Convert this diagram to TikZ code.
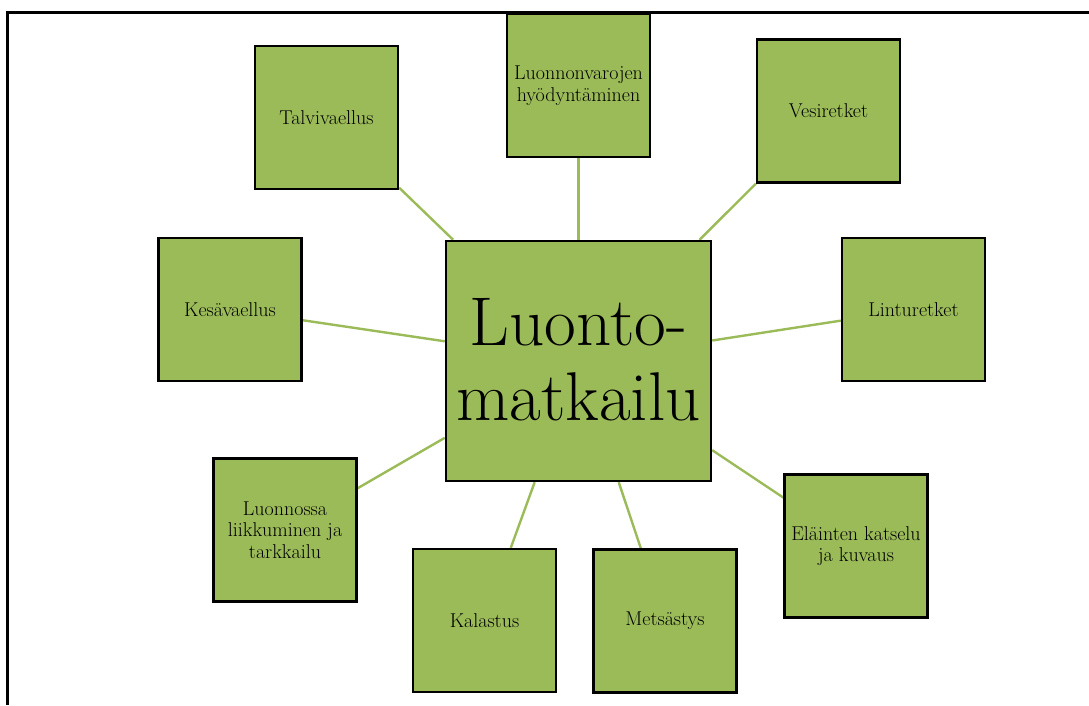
\documentclass[tikz,border=0pt]{standalone}
\usetikzlibrary{backgrounds}
\definecolor{boxgreen}{HTML}{9BBB59}
\begin{document}
\begin{tikzpicture}[x=1pt,y=-1pt,
  box/.style={draw=black,line width=2.4pt,fill=boxgreen,inner sep=0pt,align=center,
    minimum width=143pt,minimum height=143pt,font=\fontsize{20}{21.5}\selectfont},
  link/.style={draw=boxgreen,line width=2.4pt}]
\useasboundingbox (0,0) rectangle (1089,705);
\node[box] (luonnonv) at (578.5,85.5) {Luonnonvarojen\\hyödyntäminen};
\draw[line width=2.2pt] (1089,12.5) -- (7.5,12.5) -- (7.5,705);
\node[box] (talvi) at (326.5,117.5) {Talvivaellus};
\node[box] (vesi) at (828.5,111) {Vesiretket};
\node[box] (kesa) at (230,309.5) {Kesävaellus};
\node[box] (lintu) at (913.5,309.5) {Linturetket};
\node[box] (liikk) at (285,530) {Luonnossa\\liikkuminen ja\\tarkkailu};
\node[box] (kala) at (484.5,620.5) {Kalastus};
\node[box] (metsa) at (665,621) {Metsästys};
\node[box] (elain) at (856,546) {Eläinten katselu\\ja kuvaus};
\node[box,minimum width=265pt,minimum height=240pt,font=\fontsize{69}{75}\selectfont] (c) at (578.5,361) {\raisebox{4pt}{\vbox{\halign{\hfil#\hfil\cr Luonto-\cr matkailu\cr}}}};
\begin{pgfonlayer}{background}
\foreach \n in {talvi,luonnonv,vesi,kesa,lintu,liikk,kala,metsa,elain}
  \draw[link] (c) -- (\n);
\end{pgfonlayer}
\end{tikzpicture}
\end{document}
